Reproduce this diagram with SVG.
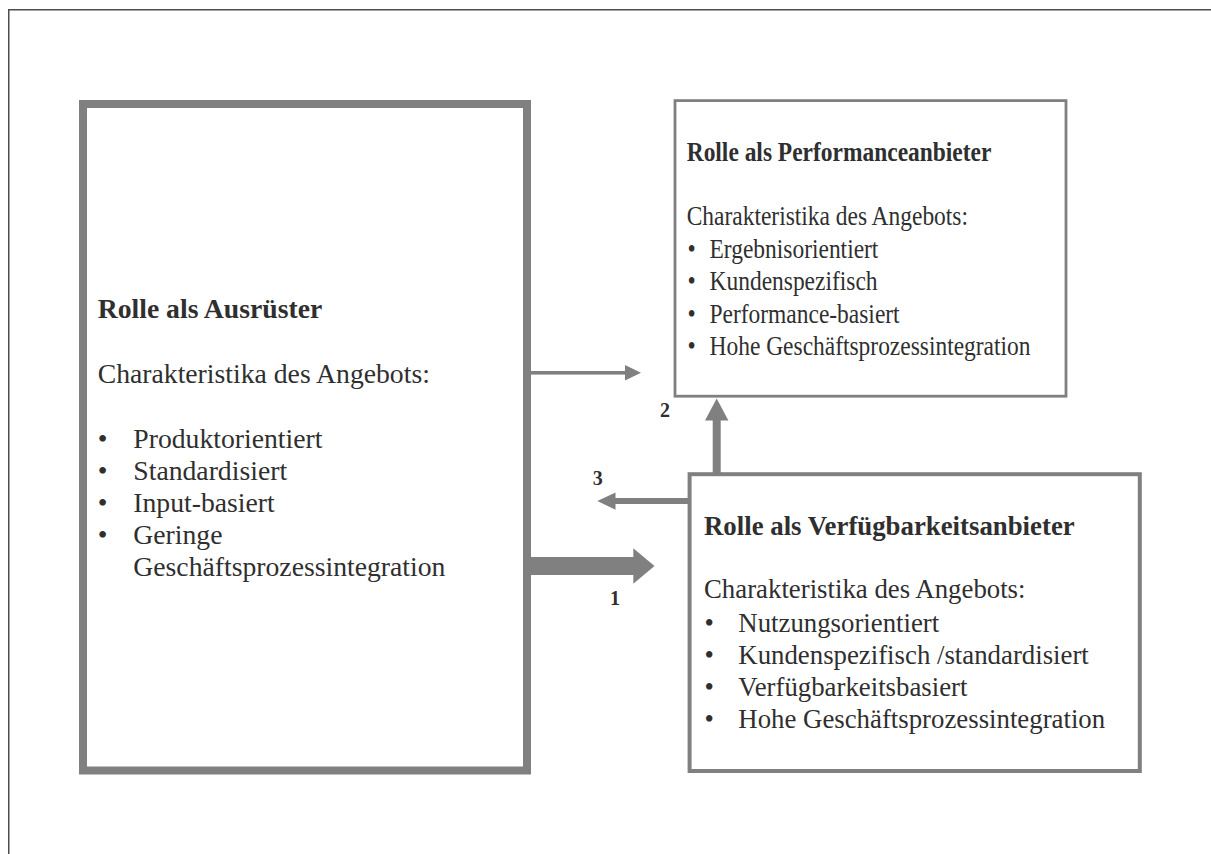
<svg xmlns="http://www.w3.org/2000/svg" width="1211" height="854" viewBox="0 0 1211 854">
<style>
  .box { fill: #ffffff; stroke: #808080; }
  .t { font-family: "Liberation Serif", "Times New Roman", serif; fill: #2f2f2f; }
  .b { font-weight: bold; }
  .arr { fill: #808080; stroke: none; }
  .num { font-family: "Liberation Serif", "Times New Roman", serif; font-weight: bold; font-size: 20px; fill: #2f2f2f; }
</style>
<rect x="0" y="0" width="1211" height="854" fill="#ffffff"/>
<path d="M8.75 854 V9.75 H1211" fill="none" stroke="#4d4d4d" stroke-width="1.5"/>

<g id="connectors">
  <rect class="arr" x="530" y="371" width="96" height="3.6"/>
  <polygon class="arr" points="625,365 641,372.8 625,380.6"/>
  <rect class="arr" x="712.7" y="419" width="8" height="54"/>
  <polygon class="arr" points="705,420.5 716.7,398.5 728.4,420.5"/>
  <rect class="arr" x="614" y="498" width="74" height="6"/>
  <polygon class="arr" points="615.5,492.5 597.3,501 615.5,509.8"/>
  <rect class="arr" x="530" y="557" width="104" height="18"/>
  <polygon class="arr" points="633.3,548.3 654.5,566 633.3,583.7"/>
  <text class="num" x="660" y="416.5">2</text>
  <text class="num" x="592.7" y="485">3</text>
  <text class="num" x="610" y="605">1</text>
</g>

<g id="node-ausruester">
  <rect class="box" x="83" y="104" width="444" height="666.5" stroke-width="8"/>
  <g class="t" font-size="27.7">
    <text class="b" x="97.7" y="318">Rolle als Ausrüster</text>
    <text x="97.7" y="382.7">Charakteristika des Angebots:</text>
    <text x="97.7" y="447.7">•</text>
    <text x="133.3" y="447.7">Produktorientiert</text>
    <text x="97.7" y="480">•</text>
    <text x="133.3" y="480">Standardisiert</text>
    <text x="97.7" y="511.9">•</text>
    <text x="133.3" y="511.9">Input-basiert</text>
    <text x="97.7" y="544">•</text>
    <text x="133.3" y="544">Geringe</text>
    <text x="133.3" y="576">Geschäftsprozessintegration</text>
  </g>
</g>

<g id="node-performanceanbieter">
  <rect class="box" x="675" y="100.6" width="391" height="295.6" stroke-width="2.8"/>
  <g class="t" font-size="26.5" transform="translate(686.7 0) scale(0.885 1)">
    <text class="b" x="0" y="160.7">Rolle als Performanceanbieter</text>
    <text x="0" y="225">Charakteristika des Angebots:</text>
    <text x="1" y="258.3">•</text>
    <text x="25.8" y="258.3">Ergebnisorientiert</text>
    <text x="1" y="290.3">•</text>
    <text x="25.8" y="290.3">Kundenspezifisch</text>
    <text x="1" y="323">•</text>
    <text x="25.8" y="323">Performance-basiert</text>
    <text x="1" y="355.2">•</text>
    <text x="25.8" y="355.2">Hohe Geschäftsprozessintegration</text>
  </g>
</g>

<g id="node-verfuegbarkeitsanbieter">
  <rect class="box" x="689.6" y="474.2" width="450.2" height="296.8" stroke-width="4"/>
  <g class="t" font-size="26.8">
    <text class="b" x="704" y="535">Rolle als Verfügbarkeitsanbieter</text>
    <text x="704" y="598.3">Charakteristika des Angebots:</text>
    <text x="704.5" y="631.7">•</text>
    <text x="738.3" y="631.7">Nutzungsorientiert</text>
    <text x="704.5" y="663.5">•</text>
    <text x="738.3" y="663.5">Kundenspezifisch /standardisiert</text>
    <text x="704.5" y="695.7">•</text>
    <text x="738.3" y="695.7">Verfügbarkeitsbasiert</text>
    <text x="704.5" y="728.3">•</text>
    <text x="738.3" y="728.3">Hohe Geschäftsprozessintegration</text>
  </g>
</g>
</svg>
